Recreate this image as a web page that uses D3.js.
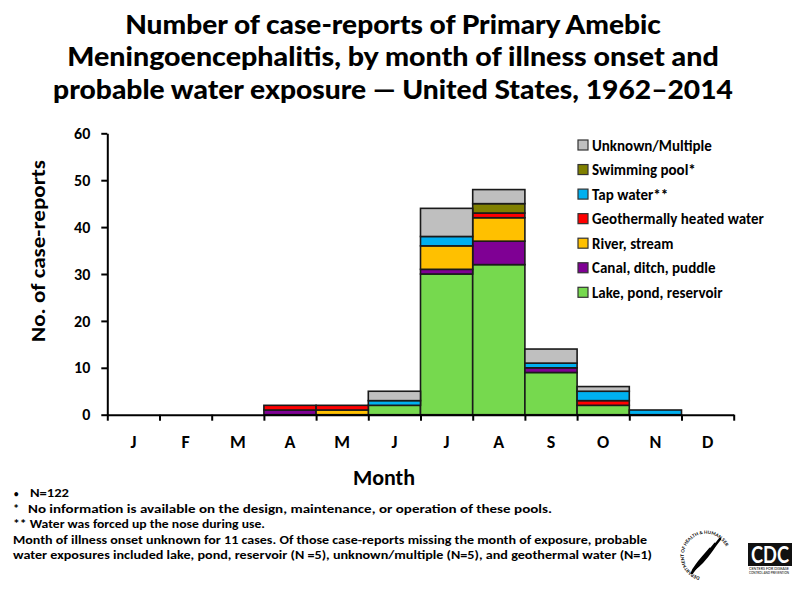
<!DOCTYPE html>
<html>
<head>
<meta charset="utf-8">
<script src="https://cdn.jsdelivr.net/npm/d3@7"></script>
<style>
  body { margin: 0; background: #fff; }
  svg { display: block; }
</style>
</head>
<body>
<div id="chart"></div>
<script>
/* chart data */
const monthLabels = ['J', 'F', 'M', 'A', 'M', 'J', 'J', 'A', 'S', 'O', 'N', 'D'];
const seriesNames = ['Lake, pond, reservoir', 'Canal, ditch, puddle', 'River, stream',
  'Geothermally heated water', 'Tap water**', 'Swimming pool*', 'Unknown/Multiple'];
const lake = [0, 0, 0, 0, 0, 2, 30, 32, 9, 2, 0, 0];
const canal = [0, 0, 0, 1, 0, 0, 1, 5, 1, 0, 0, 0];
const river = [0, 0, 0, 0, 1, 0, 5, 5, 0, 0, 0, 0];
const geothermal = [0, 0, 0, 1, 1, 0, 0, 1, 0, 1, 0, 0];
const tap = [0, 0, 0, 0, 0, 1, 2, 0, 1, 2, 1, 0];
const pool = [0, 0, 0, 0, 0, 0, 0, 2, 0, 0, 0, 0];
const unknown = [0, 0, 0, 0, 0, 2, 6, 3, 3, 1, 0, 0];
const yTicks = [0, 10, 20, 30, 40, 50, 60];

const titleLines = ['Number of case-reports of Primary Amebic',
  'Meningoencephalitis, by month of illness onset and',
  'probable water exposure \u2014 United States, 1962\u20132014'];
const footnotes = ['N=122',
  'No information is available on the design, maintenance, or operation of these pools.',
  '** Water was forced up the nose during use.',
  'Month of illness onset unknown for 11 cases.  Of those case-reports missing the month of exposure, probable',
  'water exposures included lake, pond, reservoir (N =5), unknown/multiple (N=5), and geothermal water (N=1)'];

const colours = ['#76d94e', '#7f0094', '#ffc000', '#ff0000', '#00b0f0', '#808000', '#bfbfbf'];
const bodyFont = 'Carlito, Lato, "Open Sans", sans-serif';
const titleFont = 'Lato, "Open Sans", sans-serif';

/* build a table for d3.stack */
const allSeries = [lake, canal, river, geothermal, tap, pool, unknown];
const table = monthLabels.map(function (m, i) {
  const row = { month: i };
  seriesNames.forEach(function (name, k) { row[name] = allSeries[k][i]; });
  return row;
});

const svg = d3.select('#chart')
  .append('svg')
  .attr('width', 800)
  .attr('height', 592);

/* plot area */
const plotLeft = 107.3;
const plotRight = 733.7;
const plotTop = 133.3;
const plotBottom = 414.7;

const x = d3.scaleBand()
  .domain(d3.range(12))
  .range([plotLeft, plotRight])
  .padding(0);
const xEdge = d3.scaleLinear()
  .domain([0, 12])
  .range([plotLeft, plotRight]);
const y = d3.scaleLinear()
  .domain([0, 60])
  .range([plotBottom, plotTop]);
const colour = d3.scaleOrdinal()
  .domain(seriesNames)
  .range(colours);

/* title - condensed by squeezing each line horizontally to the width seen in the reference */
const titleWidths = [536, 652, 680];
svg.append('g')
  .selectAll('text')
  .data(titleLines)
  .enter()
  .append('text')
  .attr('text-anchor', 'middle')
  .style('font-family', titleFont)
  .style('font-weight', '900')
  .style('font-size', '26.5px')
  .text(function (d) { return d; })
  .attr('transform', function (d, i) {
    const k = titleWidths[i] / this.getComputedTextLength();
    return 'translate(393,' + (33.5 + i * 32.5) + ') scale(' + k + ',1)';
  });

/* stacked bars */
const stacked = d3.stack().keys(seriesNames)(table);
svg.append('g')
  .selectAll('g')
  .data(stacked)
  .enter()
  .append('g')
  .attr('fill', function (d) { return colour(d.key); })
  .selectAll('rect')
  .data(function (d) { return d.filter(function (p) { return p[1] > p[0]; }); })
  .enter()
  .append('rect')
  .attr('x', function (d) { return x(d.data.month); })
  .attr('y', function (d) { return y(d[1]); })
  .attr('width', x.bandwidth())
  .attr('height', function (d) { return y(d[0]) - y(d[1]); })
  .attr('stroke', '#1a1a1a')
  .attr('stroke-width', 1.6);

/* y-axis */
const yAxis = svg.append('g')
  .attr('transform', 'translate(' + plotLeft + ',0)')
  .call(d3.axisLeft(y).tickValues(yTicks).tickSize(6).tickPadding(11).tickSizeOuter(0));
yAxis.selectAll('text')
  .style('font-family', bodyFont)
  .style('font-weight', 'bold')
  .style('font-size', '16px')
  .attr('fill', '#000');

/* x-axis: ticks on month boundaries, letters in the middle */
svg.append('g')
  .attr('transform', 'translate(0,' + plotBottom + ')')
  .call(d3.axisBottom(xEdge).tickValues(d3.range(13)).tickSize(6).tickFormat('').tickSizeOuter(0));
const xLabels = svg.append('g')
  .attr('transform', 'translate(0,' + plotBottom + ')')
  .call(d3.axisBottom(x).tickSize(0).tickPadding(21).tickFormat(function (i) { return monthLabels[i]; }));
xLabels.select('.domain').remove();
xLabels.selectAll('text')
  .style('font-family', bodyFont)
  .style('font-weight', 'bold')
  .style('font-size', '18px')
  .attr('fill', '#000');

svg.selectAll('.domain, .tick line')
  .attr('stroke', '#000')
  .attr('stroke-width', 2);

/* axis titles */
svg.append('text')
  .attr('transform', 'translate(45,251) rotate(-90)')
  .attr('text-anchor', 'middle')
  .attr('textLength', 182)
  .attr('lengthAdjust', 'spacingAndGlyphs')
  .style('font-family', bodyFont)
  .style('font-weight', 'bold')
  .style('font-size', '21px')
  .text('No. of case-reports');

svg.append('text')
  .attr('x', 384)
  .attr('y', 485)
  .attr('text-anchor', 'middle')
  .style('font-family', bodyFont)
  .style('font-weight', 'bold')
  .style('font-size', '22px')
  .text('Month');

/* legend, top series first */
const legendItems = seriesNames.slice().reverse();
const legend = svg.append('g')
  .selectAll('g')
  .data(legendItems)
  .enter()
  .append('g')
  .attr('transform', function (d, i) { return 'translate(578,' + (145 + i * 24.55) + ')'; });
legend.append('rect')
  .attr('x', 0)
  .attr('y', -5)
  .attr('width', 10)
  .attr('height', 10)
  .attr('fill', function (d) { return colour(d); })
  .attr('stroke', '#333')
  .attr('stroke-width', 1.2);
legend.append('text')
  .attr('x', 14)
  .attr('y', 5.5)
  .style('font-family', bodyFont)
  .style('font-weight', 'bold')
  .style('font-size', '15px')
  .text(function (d) { return d; });

/* footnotes */
const noteX = [30, 28, 13, 13, 13];
const noteW = [39, 524, 252, 634, 639];
const notes = svg.append('g')
  .style('font-family', bodyFont)
  .style('font-weight', 'bold')
  .style('font-size', '12.5px');
notes.selectAll('text.note')
  .data(footnotes)
  .enter()
  .append('text')
  .attr('class', 'note')
  .attr('x', function (d, i) { return noteX[i]; })
  .attr('y', function (d, i) { return 497.3 + i * 15.4; })
  .attr('textLength', function (d, i) { return noteW[i]; })
  .attr('lengthAdjust', 'spacingAndGlyphs')
  .text(function (d) { return d; });
notes.append('text').attr('x', 14).attr('y', 497.3).style('font-size', '9px').text('\u2022');
notes.append('text').attr('x', 13).attr('y', 512.7).text('*');

/* HHS logo, simplified */
const hhs = svg.append('g').attr('transform', 'translate(706,555)');
hhs.append('path')
  .attr('id', 'hhsArc')
  .attr('d', 'M -6,22 A 22,22 0 1,1 20,-8')
  .attr('fill', 'none');
hhs.append('text')
  .style('font-family', titleFont)
  .style('font-size', '4.5px')
  .style('font-weight', 'bold')
  .append('textPath')
  .attr('href', '#hhsArc')
  .text('DEPARTMENT OF HEALTH & HUMAN SERVICES \u2022 USA');
[0, 5, 10].forEach(function (o) {
  hhs.append('path')
    .attr('d', 'M ' + (14 - o) + ',' + (-16 + o) + ' C ' + (4 - o) + ',' + (-4 + o) + ' ' + (0 - o) + ',' + (6 + o * 0.3) + ' ' + (-12 - o * 0.2) + ',' + (14 + o * 0.4))
    .attr('fill', 'none')
    .attr('stroke', '#000')
    .attr('stroke-width', 2.6)
    .attr('stroke-linecap', 'round');
});

/* CDC logo, simplified */
const cdc = svg.append('g').attr('transform', 'translate(748,543)');
cdc.append('rect')
  .attr('width', 44)
  .attr('height', 23)
  .attr('fill', '#111');
cdc.append('text')
  .attr('x', 22)
  .attr('y', 20)
  .attr('text-anchor', 'middle')
  .attr('textLength', 38)
  .attr('lengthAdjust', 'spacingAndGlyphs')
  .attr('fill', '#fff')
  .style('font-family', titleFont)
  .style('font-weight', 'bold')
  .style('font-size', '22px')
  .text('CDC');
cdc.selectAll('text.small')
  .data(['CENTERS FOR DISEASE', 'CONTROL AND PREVENTION'])
  .enter()
  .append('text')
  .attr('class', 'small')
  .attr('x', 1)
  .attr('y', function (d, i) { return 27 + i * 4; })
  .attr('textLength', 40)
  .attr('lengthAdjust', 'spacingAndGlyphs')
  .style('font-family', titleFont)
  .style('font-size', '2.8px')
  .text(function (d) { return d; });
</script>
</body>
</html>
